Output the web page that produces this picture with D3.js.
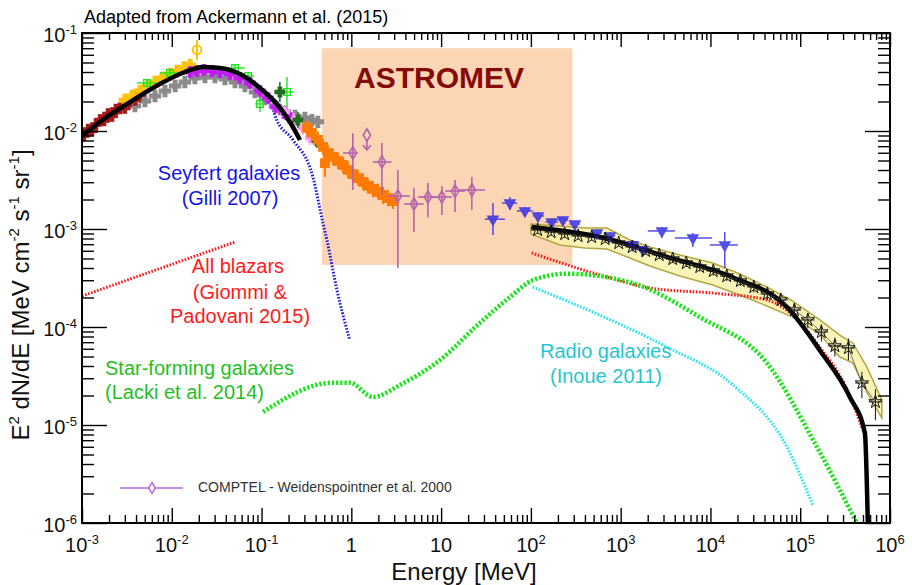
<!DOCTYPE html>
<html>
<head>
<meta charset="utf-8">
<script src="https://cdn.jsdelivr.net/npm/d3@7"></script>
<style>
body { margin: 0; background: #fff; }
text { font-family: "Liberation Sans", Arial, Helvetica, sans-serif; }
</style>
</head>
<body>
<svg id="chart" width="912" height="585"></svg>
<script>
// E in MeV, E^2 dN/dE in MeV cm^-2 s^-1 sr^-1
var xTickVals = [1e-3, 1e-2, 1e-1, 1, 10, 1e2, 1e3, 1e4, 1e5, 1e6];
var xTickText = [["10","-3"],["10","-2"],["10","-1"],["1",""],["10",""],["10","2"],["10","3"],["10","4"],["10","5"],["10","6"]];
var yTickVals = [1e-6, 1e-5, 1e-4, 1e-3, 1e-2, 1e-1];
var yTickText = [["10","-6"],["10","-5"],["10","-4"],["10","-3"],["10","-2"],["10","-1"]];

var astromevE = [0.47, 290];
var astromevV = [4.3e-4, 0.07];

// total model (black)
var modelLow = [[1e-3,8.9e-3],[1.585e-3,0.01236],[3.17e-3,0.01888],[7.39e-3,0.0302],[0.01403,0.040],[0.0222,0.045],[0.0344,0.044],[0.0574,0.0382],[0.096,0.0275],[0.148,0.01888],[0.207,0.01236],[0.268,0.0081]];
var modelHigh = [[102,1.05e-3],[586,8.3e-4],[3270,5.2e-4],[17800,3.2e-4],[71000,1.6e-4],[165000,5.8e-5],[357000,1.93e-5],[525000,8.3e-6],[566000,1e-6]];

// components
var seyfert = [[0.0574,0.0382],[0.096,0.0275],[0.118,0.0233],[0.148,0.0129],[0.224,0.0081],[0.373,3.4e-3],[0.483,1.15e-3],[0.535,7.7e-4],[0.69,2.4e-4],[0.96,7.4e-5]];
var blazarLow = [[1e-3,2.07e-4],[0.0506,7.36e-4]];
var blazarHigh = [[102,5.7e-4],[586,3.4e-4],[2110,2.5e-4],[11800,2.2e-4],[42500,1.89e-4],[82700,1.32e-4],[165000,6.25e-5],[314000,2.56e-5],[498000,8.9e-6]];
var starForming = [[0.104,1.36e-5],[0.62,2.7e-5],[0.96,2.7e-5],[1.74,1.93e-5],[3.48,2.56e-5],[9.7,4.6e-5],[27,1.1e-4],[58.4,2.02e-4],[105,3.0e-4],[252,3.5e-4],[1370,2.8e-4],[7620,1.26e-4],[42500,4.3e-5],[153000,6.0e-6],[427000,1e-6]];
var radioGal = [[105,2.56e-4],[586,1.32e-4],[3270,6.25e-5],[17800,2.56e-5],[71000,5.97e-6],[138000,1.53e-6]];

// Fermi-LAT IGRB with systematic band
var fermiE = [118.9,168.1,237.7,336.1,475.3,672.1,950.6,1344,1901,2689,3802,5377,7603,10750,15205,21500,30410,43000,60810,86000,121600,172000,243200,344000,486400,688000];
var fermiV = [9.77e-4,9.31e-4,8.89e-4,8.49e-4,8.28e-4,7.91e-4,7.19e-4,6.55e-4,5.97e-4,5.43e-4,4.94e-4,4.50e-4,4.10e-4,3.73e-4,3.31e-4,2.95e-4,2.56e-4,2.17e-4,1.89e-4,1.49e-4,1.18e-4,8.89e-5,6.40e-5,6.11e-5,2.68e-5,1.72e-5];
var fermiErr = [0.08,0.08,0.08,0.08,0.08,0.08,0.08,0.08,0.08,0.09,0.09,0.09,0.1,0.1,0.11,0.11,0.12,0.13,0.14,0.15,0.17,0.2,0.22,0.25,0.3,0.35];
var bandE = [100,210,399,702,1265,2115,4560,10640,21250,42460,82700,165000,276000,385000,552000,811000];
var bandHi = [1.125e-3,1.074e-3,1.024e-3,1.024e-3,7.72e-4,6.55e-4,5.43e-4,4.50e-4,3.47e-4,2.56e-4,1.84e-4,1.18e-4,8.28e-5,6.87e-5,3.91e-5,1.80e-5];
var bandLo = [8.89e-4,6.87e-4,6.40e-4,6.25e-4,5.06e-4,4.19e-4,3.31e-4,2.68e-4,2.12e-4,1.64e-4,1.26e-4,8.49e-5,4.94e-5,4.30e-5,2.17e-5,1.18e-5];

// E, v, Elo, Ehi, vlo, vhi
var egret = [[37.8,1.26e-3,30.7,51.3,8.7e-4,1.84e-3],[58.4,1.84e-3,47.5,69.9,1.56e-3,2.12e-3],[85.8,1.53e-3,69.9,105,1.39e-3,1.68e-3],[120,1.36e-3,105,140,1.25e-3,1.48e-3],[171,1.18e-3,145,200,1.09e-3,1.28e-3],[227,1.24e-3,200,260,1.14e-3,1.34e-3],[309,1.125e-3,270,350,1.03e-3,1.22e-3],[543,9.1e-4,470,620,8.3e-4,9.9e-4],[759,8.5e-4,660,870,7.7e-4,9.3e-4],[1368,6.9e-4,1180,1580,6.2e-4,7.6e-4],[1767,6.1e-4,1580,2000,5.5e-4,6.7e-4],[2877,9.55e-4,2009,4018,8.09e-4,1.047e-3],[6368,8.09e-4,4018,10375,6.55e-4,9.1e-4],[14450,6.87e-4,9840,20180,4.0e-4,9.31e-4]];
var comptel = [[1.04,5.97e-3,0.81,1.18,2.5e-3,9.5e-3],[2.19,4.83e-3,1.74,2.8,2.22e-3,7.55e-3],[3.30,2.17e-3,2.56,4.5,4.0e-4,4.0e-3],[4.98,1.8e-3,3.86,6.42,9.3e-4,2.62e-3],[7.13,2.12e-3,5.53,9.2,1.32e-3,2.94e-3],[10.2,2.12e-3,7.9,13.2,1.39e-3,2.75e-3],[14.3,2.44e-3,11.1,18.4,1.49e-3,3.16e-3],[22,2.5e-3,15.4,30.8,1.56e-3,3.4e-3]];
var comptelLimit = [[1.49,9.1e-3]];
// E, v, vlo, vhi
var orangePts = [[0.321,0.01075,0.0088,0.0130],[0.364,0.00955,0.0079,0.0116],[0.424,0.0081,0.0067,0.0099],[0.483,0.00687,0.0057,0.0083],[0.508,4.71e-3,3.4e-3,6.87e-3],[0.548,0.00597,0.0050,0.0072],[0.624,0.00543,0.0045,0.0066],[0.709,0.00494,0.0041,0.0060],[0.806,0.0045,0.0037,0.0055],[0.916,0.0040,0.0033,0.0049],[1.04,0.00364,0.0030,0.0044],[1.18,0.00331,0.0028,0.0040],[1.35,0.00302,0.0025,0.0037],[1.53,0.00275,0.0023,0.0033],[1.74,0.00256,0.0021,0.0031],[1.98,0.00239,0.0020,0.0029],[2.25,0.00222,0.0018,0.0027],[2.56,0.00207,0.0017,0.0025],[2.91,0.00193,0.0016,0.0023]];

// hard X-ray data (E, v)
var darkRed = [[1.05e-3,9.0e-3],[1.17e-3,1.035e-2],[1.29e-3,1.01e-2],[1.43e-3,1.164e-2],[1.59e-3,1.295e-2],[1.76e-3,1.28e-2],[1.95e-3,1.49e-2],[2.16e-3,1.422e-2],[2.39e-3,1.656e-2],[2.65e-3,1.70e-2],[3.0e-3,1.718e-2],[3.4e-3,2.02e-2],[3.9e-3,2.07e-2],[4.4e-3,2.357e-2]];
var gold = [[3.0e-3,0.0207],[3.6e-3,0.0228],[4.42e-3,0.0256],[5.43e-3,0.0288],[6.5e-3,0.0316],[7.78e-3,0.0348],[9.55e-3,0.0382],[0.0114,0.0409],[0.0137,0.0445],[0.016,0.0471]];
var goldBig = [[0.0191,0.0671,0.053,0.0849]];
var gray = [[3.89e-3,0.0180],[5.03e-3,0.0202],[6.5e-3,0.0228],[8.4e-3,0.0256],[0.0109,0.0288],[0.0140,0.0316],[0.0181,0.0348],[0.0234,0.0356],[0.0303,0.0356],[0.0391,0.0340],[0.0506,0.0316],[0.0653,0.0288],[0.0845,0.0250],[0.109,0.0212],[0.141,0.0180],[0.182,0.0156],[0.236,0.0142],[0.304,0.0136],[0.364,0.0129],[0.424,0.0124]];
var greenSq = [[5.3e-3,0.0309,4.1e-3,6.84e-3,0.028,0.034],[9.55e-3,0.0391,7.39e-3,0.0123,0.036,0.043],[0.0506,0.0439,0.0391,0.0653,0.040,0.048],[0.0706,0.0364,0.0605,0.0823,0.033,0.040],[0.096,0.0189,0.085,0.108,0.0156,0.0228],[0.192,0.0250,0.160,0.229,0.0146,0.0356]];
var magenta = [[0.016,0.040],[0.0191,0.0409],[0.0228,0.0419],[0.0281,0.0409],[0.0344,0.040],[0.0445,0.0382],[0.0574,0.0348],[0.0743,0.0309],[0.096,0.0256],[0.118,0.0217],[0.145,0.0176],[0.178,0.0153],[0.207,0.0136]];
var pink = [[0.182,0.0156],[0.229,0.0129],[0.289,0.01075],[0.346,8.49e-3]];
var darkGreen = [[0.160,0.0250,0.0198,0.0316],[0.254,0.0129,0.01075,0.0156],[0.414,7.91e-3,6.72e-3,9.31e-3]];

var svg = d3.select("#chart");
var x = d3.scaleLog().domain([1e-3, 1e6]).range([82, 890]);
var y = d3.scaleLog().domain([1e-6, 1e-1]).range([523, 33]);

svg.append("defs").append("clipPath").attr("id", "clip")
  .append("rect").attr("x", 82).attr("y", 33).attr("width", 808).attr("height", 490);
var plot = svg.append("g").attr("clip-path", "url(#clip)");

// ASTROMEV box
plot.append("rect")
  .attr("x", x(astromevE[0])).attr("y", y(astromevV[1]))
  .attr("width", x(astromevE[1]) - x(astromevE[0]))
  .attr("height", y(astromevV[0]) - y(astromevV[1]))
  .attr("fill", "#fcd5b4");

// Fermi systematic band
var band = bandE.map(function(e, i) { return [e, bandLo[i], bandHi[i]]; });
plot.append("path").datum(band)
  .attr("d", d3.area().x(d => x(d[0])).y0(d => y(d[1])).y1(d => y(d[2])))
  .attr("fill", "#f7f1a6").attr("fill-opacity", 0.8)
  .attr("stroke", "#b5a642").attr("stroke-width", 1.5);

var line = d3.line().x(d => x(d[0])).y(d => y(d[1])).curve(d3.curveMonotoneX);
function dotted(data, color, w, dash) {
  plot.append("path").datum(data).attr("d", line)
    .attr("fill", "none").attr("stroke", color)
    .attr("stroke-width", w).attr("stroke-dasharray", dash);
}
dotted(seyfert, "#1e1ee6", 3, "1.6,1.6");
dotted(blazarLow, "#ff1a1a", 3, "1.6,1.6");
dotted(blazarHigh, "#ff1a1a", 3, "1.6,1.6");
dotted(starForming, "#14e614", 4.5, "2.2,2");
dotted(radioGal, "#1ee6f5", 3, "1.6,1.6");

// generic markers with error bars
function scatter(data, s) {
  var g = plot.append("g").attr("stroke", s.color).attr("stroke-width", s.sw || 1.2)
    .attr("opacity", s.op || 1);
  var pts = g.selectAll("g").data(data).join("g");
  if (s.vlo) pts.append("line")
    .attr("x1", d => x(s.e(d))).attr("x2", d => x(s.e(d)))
    .attr("y1", d => y(s.vlo(d))).attr("y2", d => y(s.vhi(d)));
  if (s.tick) pts.append("line")
    .attr("x1", d => x(s.e(d))).attr("x2", d => x(s.e(d)))
    .attr("y1", d => y(s.v(d)) - s.tick).attr("y2", d => y(s.v(d)) + s.tick);
  if (s.elo) pts.append("line")
    .attr("x1", d => x(s.elo(d))).attr("x2", d => x(s.ehi(d)))
    .attr("y1", d => y(s.v(d))).attr("y2", d => y(s.v(d)));
  pts.append("path")
    .attr("d", d3.symbol().type(s.type).size(s.size))
    .attr("transform", d => "translate(" + x(s.e(d)) + "," + y(s.v(d)) + ")" + (s.rot ? " rotate(180)" : ""))
    .attr("fill", s.fill || "none");
}
var e0 = d => d[0], v1 = d => d[1];

scatter(gray, {e: e0, v: v1, color: "#8a8a8a", type: d3.symbolCross, size: 70, fill: "#8a8a8a", tick: 6});
scatter(darkRed, {e: e0, v: v1, color: "#a51818", type: d3.symbolCross, size: 60, fill: "#a51818", tick: 5});
scatter(gold, {e: e0, v: v1, color: "#ffc20a", type: d3.symbolCross, size: 70, fill: "#ffc20a", tick: 5});
scatter(goldBig, {e: e0, v: v1, vlo: d => d[2], vhi: d => d[3], color: "#ffc20a", type: d3.symbolCircle, size: 60, sw: 2});
scatter(greenSq, {e: e0, v: v1, elo: d => d[2], ehi: d => d[3], vlo: d => d[4], vhi: d => d[5], color: "#1ee61e", type: d3.symbolSquare, size: 45, sw: 1.4});
scatter(magenta, {e: e0, v: v1, color: "#c21ef0", type: d3.symbolCross, size: 55, fill: "#c21ef0", tick: 6, sw: 1.6});
scatter(pink, {e: e0, v: v1, color: "#ff9cf0", type: d3.symbolCross, size: 40, fill: "#ff9cf0", tick: 7, sw: 1.6});
scatter(darkGreen, {e: e0, v: v1, vlo: d => d[2], vhi: d => d[3], color: "#1e6e1e", type: d3.symbolCross, size: 50, fill: "#1e6e1e", sw: 1.5});
scatter(orangePts, {e: e0, v: v1, vlo: d => d[2], vhi: d => d[3], color: "#ff7a00", type: d3.symbolSquare, size: 60, fill: "#ff7a00", sw: 2});

// total model
plot.append("path").datum(modelLow).attr("d", line)
  .attr("fill", "none").attr("stroke", "#000").attr("stroke-width", 4.5);
plot.append("path").datum(modelHigh).attr("d", line)
  .attr("fill", "none").attr("stroke", "#000").attr("stroke-width", 4.5);

// COMPTEL
scatter(comptel, {e: e0, v: v1, elo: d => d[2], ehi: d => d[3], vlo: d => d[4], vhi: d => d[5], color: "#b563ad", type: d3.symbolDiamond, size: 45, sw: 1.6});
scatter(comptelLimit, {e: e0, v: v1, color: "#b563ad", type: d3.symbolDiamond, size: 45, sw: 1.6});
plot.selectAll(".ul").data(comptelLimit).join("path")
  .attr("d", d => { var px = x(d[0]), py = y(d[1]); return "M" + px + "," + (py + 4) + "V" + (py + 14) + "M" + (px - 4) + "," + (py + 10) + "L" + px + "," + (py + 15) + "L" + (px + 4) + "," + (py + 10); })
  .attr("fill", "none").attr("stroke", "#b563ad").attr("stroke-width", 1.6);

// EGRET-like points
scatter(egret, {e: e0, v: v1, elo: d => d[2], ehi: d => d[3], vlo: d => d[4], vhi: d => d[5], color: "#2a22e6", type: d3.symbolTriangle, size: 45, fill: "#2a22e6", rot: true, sw: 1.5, op: 0.8});

// Fermi-LAT points
var fermi = fermiE.map(function(e, i) {
  var lo = i > 0 ? Math.sqrt(fermiE[i - 1] * e) : e * e / Math.sqrt(e * fermiE[1]);
  var hi = i < fermiE.length - 1 ? Math.sqrt(fermiE[i + 1] * e) : e * e / Math.sqrt(e * fermiE[i - 1]);
  return [e, fermiV[i], lo, hi, fermiV[i] * (1 - fermiErr[i]), fermiV[i] * (1 + fermiErr[i])];
});
plot.append("path").datum(fermi).attr("d", d3.line().x(d => x(d[0])).y(d => y(d[1])))
  .attr("fill", "none").attr("stroke", "#555").attr("stroke-width", 0.8);
scatter(fermi, {e: e0, v: v1, elo: d => d[2], ehi: d => d[3], vlo: d => d[4], vhi: d => d[5], color: "#111", type: d3.symbolStar, size: 55, sw: 1});

// axes
var xMinor = x.ticks().filter(v => Math.abs(Math.log10(v) - Math.round(Math.log10(v))) > 1e-6);
var yMinor = y.ticks().filter(v => Math.abs(Math.log10(v) - Math.round(Math.log10(v))) > 1e-6);
function ticks(gen, tr) {
  svg.append("g").attr("transform", tr).call(gen.tickFormat("").tickSizeOuter(0))
    .call(g => { g.select(".domain").remove(); g.selectAll("line").attr("stroke", "#000").attr("stroke-width", 1.4); });
}
ticks(d3.axisBottom(x).tickValues(xMinor).tickSize(-8), "translate(0,523)");
ticks(d3.axisBottom(x).tickValues(xTickVals).tickSize(-15), "translate(0,523)");
ticks(d3.axisTop(x).tickValues(xMinor).tickSize(-7), "translate(0,33)");
ticks(d3.axisTop(x).tickValues(xTickVals).tickSize(-14), "translate(0,33)");
ticks(d3.axisLeft(y).tickValues(yMinor).tickSize(-12), "translate(82,0)");
ticks(d3.axisLeft(y).tickValues(yTickVals).tickSize(-25), "translate(82,0)");
ticks(d3.axisRight(y).tickValues(yMinor).tickSize(-12), "translate(890,0)");
ticks(d3.axisRight(y).tickValues(yTickVals).tickSize(-25), "translate(890,0)");
svg.append("rect").attr("x", 82).attr("y", 33).attr("width", 808).attr("height", 490)
  .attr("fill", "none").attr("stroke", "#000").attr("stroke-width", 2);

function supText(sel, t) {
  sel.append("tspan").text(t[0]);
  if (t[1]) sel.append("tspan").attr("font-size", 13).attr("dy", -8).text(t[1]);
}
xTickVals.forEach(function(v, i) {
  var t = svg.append("text").attr("x", x(v)).attr("y", 552).attr("text-anchor", "middle").attr("font-size", 20).attr("fill", "#111");
  supText(t, xTickText[i]);
});
yTickVals.forEach(function(v, i) {
  var t = svg.append("text").attr("x", 77).attr("y", y(v) + 9).attr("text-anchor", "end").attr("font-size", 20).attr("fill", "#111");
  supText(t, yTickText[i]);
});

svg.append("text").attr("x", 464).attr("y", 580).attr("text-anchor", "middle").attr("font-size", 24).attr("fill", "#111").text("Energy [MeV]");
var yt = svg.append("text").attr("transform", "translate(29,295) rotate(-90)").attr("text-anchor", "middle").attr("font-size", 24).attr("fill", "#111");
[["E",""],["2","sup"],[" dN/dE [MeV cm",""],["-2","sup"],[" s",""],["-1","sup"],[" sr",""],["-1","sup"],["]",""]].forEach(function(p) {
  var ts = yt.append("tspan").text(p[0]);
  if (p[1]) ts.attr("font-size", 15).attr("dy", -10);
  else if (yt.node().childNodes.length > 1) ts.attr("dy", 10);
});

svg.append("text").attr("x", 84).attr("y", 23).attr("font-size", 18).attr("fill", "#000").text("Adapted from Ackermann et al. (2015)");
svg.append("text").attr("x", 439).attr("y", 88).attr("text-anchor", "middle").attr("font-size", 30).attr("font-weight", "bold").attr("fill", "#850a0a").text("ASTROMEV");

function label(lines, color, anchor) {
  lines.forEach(function(l) {
    svg.append("text").attr("x", l[0]).attr("y", l[1]).attr("text-anchor", anchor).attr("font-size", 20).attr("fill", color).text(l[2]);
  });
}
label([[229,180,"Seyfert galaxies"],[230,205,"(Gilli 2007)"]], "#1515e6", "middle");
label([[238,273,"All blazars"],[240,299,"(Giommi &"],[240,323,"Padovani 2015)"]], "#ff1a1a", "middle");
label([[105,375,"Star-forming galaxies"],[105,399,"(Lacki et al. 2014)"]], "#1fbf1f", "start");
label([[540,358,"Radio galaxies"],[550,383,"(Inoue 2011)"]], "#26c6d0", "start");

// legend
var lg = svg.append("g");
lg.append("line").attr("x1", 120).attr("x2", 183).attr("y1", 488).attr("y2", 488).attr("stroke", "#b86ad8").attr("stroke-width", 1.5);
lg.append("path").attr("d", d3.symbol().type(d3.symbolDiamond).size(35)).attr("transform", "translate(152,488)").attr("fill", "#fff").attr("stroke", "#b86ad8").attr("stroke-width", 1.5);
lg.append("text").attr("x", 198).attr("y", 492).attr("font-size", 14).attr("fill", "#333").text("COMPTEL - Weidenspointner et al. 2000");
</script>
</body>
</html>
